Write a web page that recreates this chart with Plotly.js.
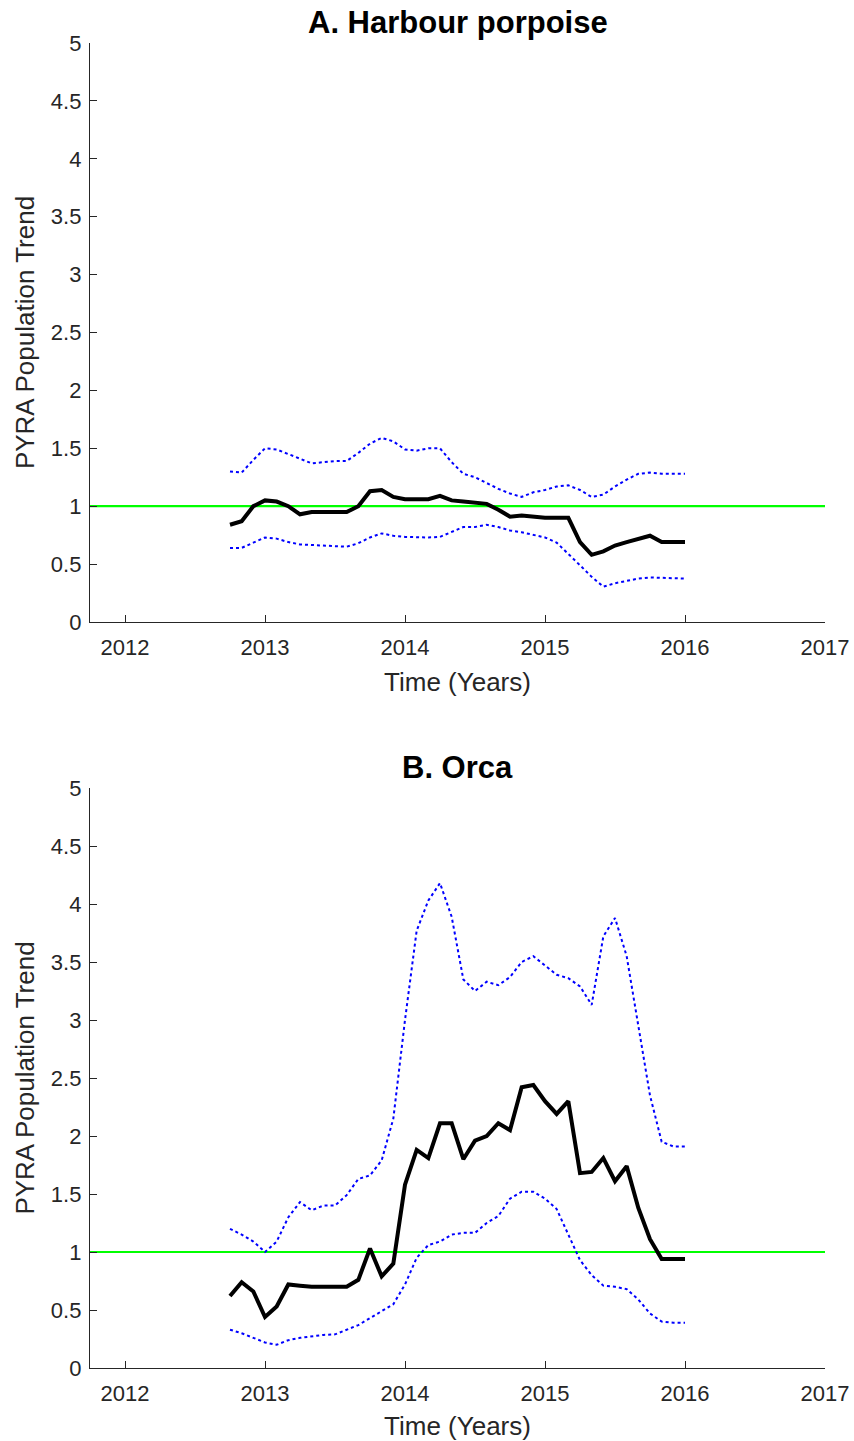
<!DOCTYPE html>
<html>
<head>
<meta charset="utf-8">
<script src="https://cdn.plot.ly/plotly-3.0.1.min.js"></script>
<style>html,body{margin:0;padding:0;background:#fff;}#chart{width:854px;height:1441px;}</style>
</head>
<body>
<div id="chart"></div>
<script>
// Monthly time steps from Oct 2012 (2012.75) to 2016.0
const nMonths = 40;
const startYear = 2012.75;
const time = [];
for (let i = 0; i < nMonths; i++) time.push(startYear + i / 12);

const panelTitles = ["A. Harbour porpoise", "B. Orca"];
const xTickVals = [2012, 2013, 2014, 2015, 2016, 2017];
const yTickVals = [0, 0.5, 1, 1.5, 2, 2.5, 3, 3.5, 4, 4.5, 5];
const referenceLevel = 1;

// A. Harbour porpoise
const porpoiseTrend = [0.84, 0.87, 1.00, 1.05, 1.04, 1.00, 0.93, 0.95, 0.95, 0.95,
  0.95, 1.00, 1.13, 1.14, 1.08, 1.06, 1.06, 1.06, 1.09, 1.05,
  1.04, 1.03, 1.02, 0.97, 0.91, 0.92, 0.91, 0.90, 0.90, 0.90,
  0.69, 0.58, 0.61, 0.66, 0.69, 0.72, 0.745, 0.69, 0.69, 0.69];
const porpoiseUpper = [1.30, 1.29, 1.40, 1.50, 1.49, 1.45, 1.41, 1.37, 1.38, 1.39,
  1.39, 1.46, 1.54, 1.59, 1.56, 1.49, 1.48, 1.50, 1.50, 1.38,
  1.28, 1.25, 1.20, 1.15, 1.11, 1.08, 1.12, 1.14, 1.17, 1.18,
  1.14, 1.08, 1.10, 1.17, 1.23, 1.28, 1.29, 1.28, 1.28, 1.28];
const porpoiseLower = [0.64, 0.64, 0.685, 0.73, 0.72, 0.69, 0.67, 0.665, 0.66, 0.66,
  0.65, 0.68, 0.73, 0.765, 0.745, 0.735, 0.73, 0.73, 0.735, 0.775,
  0.82, 0.82, 0.84, 0.82, 0.79, 0.775, 0.75, 0.73, 0.685, 0.59,
  0.49, 0.39, 0.305, 0.335, 0.355, 0.375, 0.385, 0.38, 0.375, 0.375];

// B. Orca
const orcaTrend = [0.62, 0.74, 0.66, 0.44, 0.53, 0.72, 0.71, 0.70, 0.70, 0.70,
  0.70, 0.76, 1.03, 0.79, 0.90, 1.58, 1.88, 1.81, 2.11, 2.11,
  1.80, 1.96, 2.00, 2.11, 2.05, 2.42, 2.44, 2.30, 2.19, 2.30,
  1.68, 1.69, 1.81, 1.61, 1.74, 1.38, 1.11, 0.94, 0.94, 0.94];
const orcaUpper = [1.20, 1.15, 1.09, 1.00, 1.09, 1.30, 1.43, 1.36, 1.40, 1.40,
  1.49, 1.63, 1.66, 1.79, 2.15, 3.00, 3.77, 4.03, 4.18, 3.89,
  3.35, 3.25, 3.33, 3.30, 3.37, 3.50, 3.55, 3.47, 3.39, 3.36,
  3.29, 3.13, 3.72, 3.88, 3.55, 2.95, 2.35, 1.95, 1.91, 1.91];
const orcaLower = [0.33, 0.30, 0.26, 0.22, 0.20, 0.24, 0.26, 0.275, 0.285, 0.29,
  0.33, 0.37, 0.43, 0.49, 0.55, 0.72, 0.95, 1.06, 1.09, 1.15,
  1.165, 1.165, 1.25, 1.31, 1.46, 1.52, 1.52, 1.46, 1.37, 1.15,
  0.93, 0.80, 0.71, 0.70, 0.68, 0.59, 0.47, 0.40, 0.39, 0.39];

const xRange = [2011.75, 2017];
const panels = [
  {trend: porpoiseTrend, upper: porpoiseUpper, lower: porpoiseLower, xa: 'x', ya: 'y'},
  {trend: orcaTrend, upper: orcaUpper, lower: orcaLower, xa: 'x2', ya: 'y2'}
];

const traces = [];
panels.forEach(p => {
  traces.push({x: xRange, y: [referenceLevel, referenceLevel], mode: 'lines', xaxis: p.xa, yaxis: p.ya,
    line: {color: '#00ff00', width: 2.2}, hoverinfo: 'skip'});
  traces.push({x: time, y: p.upper, mode: 'lines', xaxis: p.xa, yaxis: p.ya,
    line: {color: '#0000ff', width: 2, dash: 'dot'}});
  traces.push({x: time, y: p.lower, mode: 'lines', xaxis: p.xa, yaxis: p.ya,
    line: {color: '#0000ff', width: 2, dash: 'dot'}});
  traces.push({x: time, y: p.trend, mode: 'lines', xaxis: p.xa, yaxis: p.ya,
    line: {color: '#000000', width: 4}});
});

const axisColor = '#262626';
const fontFam = '"Liberation Sans", Arial, sans-serif';
function xAxis(anchor) {
  return {
    anchor: anchor, range: xRange, tickvals: xTickVals, ticktext: xTickVals.map(String),
    showline: true, linecolor: axisColor, linewidth: 1.2, ticks: 'inside', ticklen: 7,
    tickcolor: axisColor, tickwidth: 1, showgrid: false, zeroline: false,
    ticklabelstandoff: 5,
    tickfont: {size: 22, color: axisColor, family: fontFam},
    title: {text: 'Time (Years)', font: {size: 26, color: axisColor, family: fontFam}, standoff: 14}
  };
}
function yAxis(anchor, domain) {
  return {
    anchor: anchor, domain: domain, range: [0, 5], tickvals: yTickVals,
    ticktext: yTickVals.map(String),
    showline: true, linecolor: axisColor, linewidth: 1.2, ticks: 'inside', ticklen: 7,
    tickcolor: axisColor, tickwidth: 1, showgrid: false, zeroline: false,
    ticklabelstandoff: 3,
    tickfont: {size: 22, color: axisColor, family: fontFam},
    title: {text: 'PYRA Population Trend', font: {size: 26, color: axisColor, family: fontFam}, standoff: 8}
  };
}

const plotH = 1441 - 43 - 73;
const layout = {
  width: 854, height: 1441,
  margin: {l: 90, r: 29, t: 43, b: 73},
  paper_bgcolor: '#ffffff', plot_bgcolor: '#ffffff',
  showlegend: false,
  font: {family: fontFam, color: axisColor},
  xaxis: xAxis('y'),
  yaxis: yAxis('x', [1 - 579 / plotH, 1]),
  xaxis2: xAxis('y2'),
  yaxis2: yAxis('x2', [0, 1 - 745 / plotH]),
  annotations: [
    {text: '<b>' + panelTitles[0] + '</b>', xref: 'paper', yref: 'paper', x: 0.5, y: 1,
      yshift: 21, xanchor: 'center', yanchor: 'middle', showarrow: false,
      font: {size: 31, color: '#000000', family: fontFam}},
    {text: '<b>' + panelTitles[1] + '</b>', xref: 'paper', yref: 'paper', x: 0.5, y: 1 - 745 / plotH,
      yshift: 21, xanchor: 'center', yanchor: 'middle', showarrow: false,
      font: {size: 31, color: '#000000', family: fontFam}}
  ]
};

Plotly.newPlot('chart', traces, layout, {displayModeBar: false, staticPlot: true});
</script>
</body>
</html>
